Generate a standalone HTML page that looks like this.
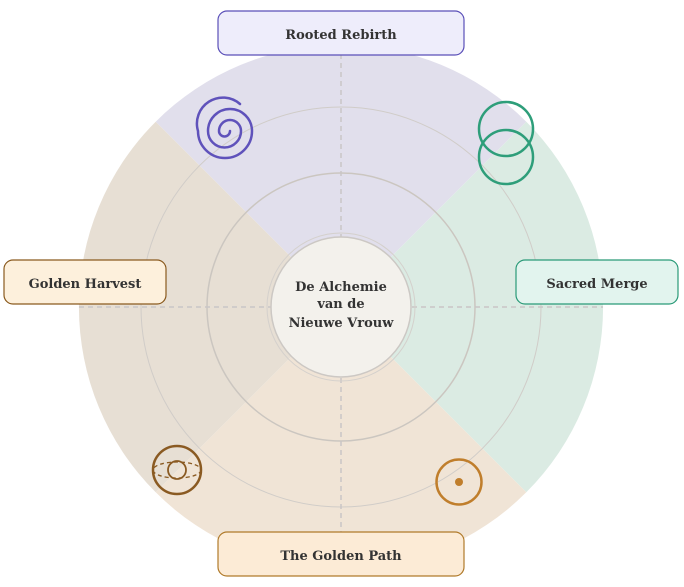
<!DOCTYPE html>
<html><head><meta charset="utf-8"><style>
html,body{margin:0;padding:0;background:#fff;}
svg{display:block;}
text{font-family:"DejaVu Serif","Liberation Serif",serif;font-weight:bold;font-size:13px;fill:#333;}
</style></head><body>
<svg width="684" height="587" viewBox="0 0 684 587" xmlns="http://www.w3.org/2000/svg">
<path d="M341 307 L155.7 121.7 A262 262 0 0 1 526.3 121.7 Z" fill="#e1dfec"/>
<path d="M341 307 L526.3 121.7 A262 262 0 0 1 526.3 492.3 Z" fill="#dbebe3"/>
<path d="M341 307 L526.3 492.3 A262 262 0 0 1 155.7 492.3 Z" fill="#f0e4d6"/>
<path d="M341 307 L155.7 492.3 A262 262 0 0 1 155.7 121.7 Z" fill="#e7dfd4"/>
<circle cx="341" cy="307" r="200" fill="none" stroke="#d0ccc8" stroke-width="1"/>
<circle cx="341" cy="307" r="134" fill="none" stroke="#cbc6c0" stroke-width="1.5"/>
<line x1="341" y1="45" x2="341" y2="569" stroke="#c9c5c6" stroke-width="1.5" stroke-dasharray="5,4"/>
<line x1="79" y1="307" x2="603" y2="307" stroke="#c9c5c6" stroke-width="1.5" stroke-dasharray="5,4"/>
<circle cx="341" cy="307" r="74" fill="none" stroke="#d4d0cc" stroke-width="1"/>
<circle cx="341" cy="307" r="70" fill="#f3f1ec" stroke="#ccc8c4" stroke-width="1.5"/>
<text x="341" y="291" text-anchor="middle">De Alchemie</text>
<text x="341" y="308" text-anchor="middle">van de</text>
<text x="341" y="327" text-anchor="middle">Nieuwe Vrouw</text>
<path d="M240 104 A26 26 0 0 0 198 131 A27 27 0 0 0 252 131 A22 22 0 0 0 208 131 A16.5 16.5 0 0 0 241 131 A11 11 0 0 0 219 131 A5.5 5.5 0 0 0 230 131" fill="none" stroke="#5f52bb" stroke-width="2.5" stroke-linecap="round"/>
<circle cx="506" cy="129" r="27" fill="none" stroke="#2e9e7a" stroke-width="2.5"/>
<circle cx="506" cy="157" r="27" fill="none" stroke="#2e9e7a" stroke-width="2.5"/>
<circle cx="177" cy="470" r="24" fill="none" stroke="#8a5a22" stroke-width="2.5"/>
<ellipse cx="177" cy="470" rx="24" ry="8" fill="none" stroke="#8a5a22" stroke-width="1.3" stroke-dasharray="4,3"/>
<circle cx="177" cy="470" r="9" fill="none" stroke="#8a5a22" stroke-width="1.8"/>
<circle cx="459" cy="482" r="22.5" fill="none" stroke="#c07e2c" stroke-width="2.5"/>
<circle cx="459" cy="482" r="4" fill="#c07e2c"/>
<rect x="218" y="11" width="246" height="44" rx="9" fill="#eeedfb" stroke="#5a4fb8" stroke-width="1.2"/>
<text x="341" y="39" text-anchor="middle">Rooted Rebirth</text>
<rect x="4" y="260" width="162" height="44" rx="9" fill="#fdf0dc" stroke="#8a5a1e" stroke-width="1.2"/>
<text x="85" y="288" text-anchor="middle">Golden Harvest</text>
<rect x="516" y="260" width="162" height="44" rx="9" fill="#e2f4ee" stroke="#2a9a78" stroke-width="1.2"/>
<text x="597" y="288" text-anchor="middle">Sacred Merge</text>
<rect x="218" y="532" width="246" height="44" rx="9" fill="#fcebd6" stroke="#b07a2a" stroke-width="1.2"/>
<text x="341" y="560" text-anchor="middle">The Golden Path</text>
</svg>
</body></html>
